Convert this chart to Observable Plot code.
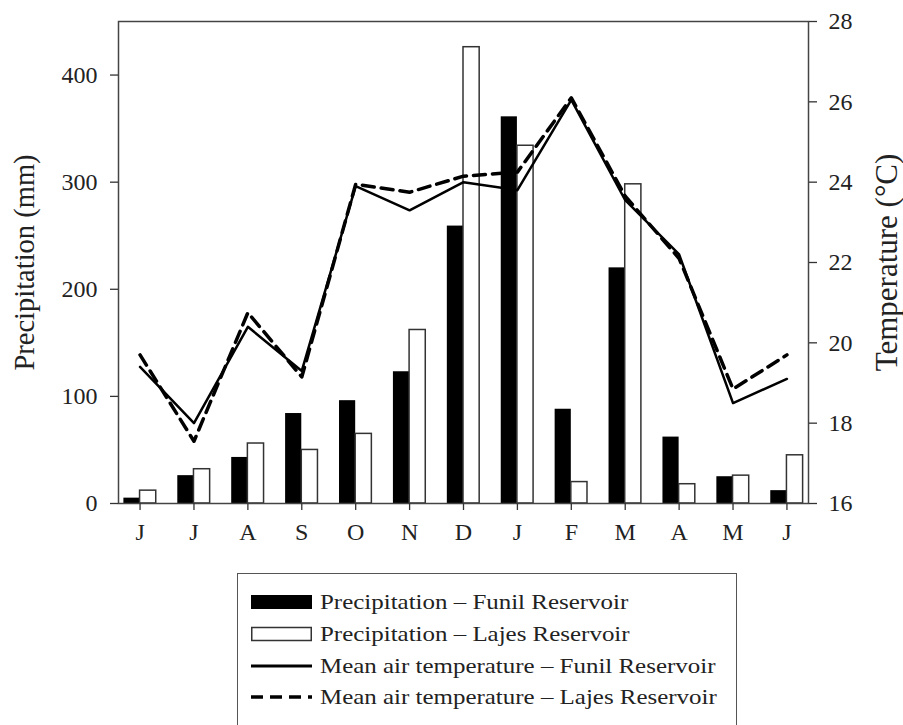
<!DOCTYPE html>
<html>
<head>
<meta charset="utf-8">
<script src="https://cdn.jsdelivr.net/npm/d3@7"></script>
<script src="https://cdn.jsdelivr.net/npm/@observablehq/plot@0.6"></script>
<style>
  html, body { margin: 0; padding: 0; background: #fff; }
  body { width: 903px; height: 725px; position: relative; overflow: hidden; font-family: "Liberation Serif", serif; }
  #chart { position: absolute; left: 0; top: 0; }
  #chart svg { font-family: "Liberation Serif", serif; }
  #legend { position: absolute; left: 237px; top: 573px; width: 500px; height: 170px; border: 1.5px solid #555; box-sizing: border-box; }
  .item { position: absolute; left: 13px; height: 30px; display: flex; align-items: center; color: #222; white-space: nowrap; }
  .item svg { margin-right: 8px; flex: none; }
  .item span { display: inline-block; font-size: 21.5px; transform: scaleX(1.16); transform-origin: left center; }
</style>
</head>
<body>
<div id="chart"></div>
<div id="legend">
  <div class="item" style="top:13px"><svg width="61" height="16"><rect x="0" y="1" width="61" height="14" fill="#000"/></svg><span>Precipitation – Funil Reservoir</span></div>
  <div class="item" style="top:45px"><svg width="61" height="16"><rect x="0.75" y="1.5" width="59.5" height="13" fill="#fff" stroke="#333" stroke-width="1.5"/></svg><span>Precipitation – Lajes Reservoir</span></div>
  <div class="item" style="top:77px"><svg width="61" height="16"><line x1="0" x2="61" y1="8" y2="8" stroke="#000" stroke-width="3"/></svg><span>Mean air temperature – Funil Reservoir</span></div>
  <div class="item" style="top:108px"><svg width="61" height="16"><line x1="0" x2="61" y1="8" y2="8" stroke="#000" stroke-width="3.5" stroke-dasharray="12,7"/></svg><span>Mean air temperature – Lajes Reservoir</span></div>
</div>
<script>
const months = ["J","J","A","S","O","N","D","J","F","M","A","M","J"];
const precipFunil = [5, 26, 43, 84, 96, 123, 259, 361, 88, 220, 62, 25, 12];
const precipLajes = [12, 32, 56, 50, 65, 162, 426, 334, 20, 298, 18, 26, 45];
const tempFunil = [19.4, 18.0, 20.4, 19.3, 23.9, 23.3, 24.0, 23.8, 26.05, 23.55, 22.2, 18.5, 19.1];
const tempLajes = [19.7, 17.55, 20.75, 19.15, 23.95, 23.75, 24.15, 24.25, 26.1, 23.65, 22.1, 18.85, 19.7];
const precipTicks = [0, 100, 200, 300, 400];
const tempTicks = [16, 18, 20, 22, 24, 26, 28];
const leftLabel = "Precipitation (mm)";
const rightLabel = "Temperature (°C)";

const tMin = 16, tMax = 28, pMax = 450;
const toP = t => (t - tMin) * pMax / (tMax - tMin);

const rows = months.map((m, i) => ({
  i, m,
  funil: precipFunil[i], lajes: precipLajes[i],
  tf: toP(tempFunil[i]), tl: toP(tempLajes[i])
}));
const bw = 0.3;
const blank = () => "";

const chart = Plot.plot({
  width: 903,
  height: 550,
  marginLeft: 118,
  marginRight: 95,
  marginTop: 21,
  marginBottom: 47,
  x: { type: "linear", domain: [-0.4, 12.4] },
  y: { domain: [0, pMax] },
  style: { fontFamily: "Liberation Serif, serif", background: "#fff", color: "#222" },
  marks: [
    Plot.rect(rows, { x1: d => d.i - bw, x2: d => d.i, y1: 0, y2: "funil", fill: "#000" }),
    Plot.rect(rows, { x1: d => d.i, x2: d => d.i + bw, y1: 0, y2: "lajes", fill: "#fff", stroke: "#333", strokeWidth: 1.5 }),
    Plot.line(rows, { x: "i", y: "tf", stroke: "#000", strokeWidth: 2.5 }),
    Plot.line(rows, { x: "i", y: "tl", stroke: "#000", strokeWidth: 3.5, strokeDasharray: "12,7" }),
    Plot.frame({ stroke: "#444", strokeWidth: 1.5 }),
    // tick lines
    Plot.axisX({ ticks: d3.range(months.length), tickFormat: blank, tickSize: 7, label: null, stroke: "#333", strokeWidth: 1.3 }),
    Plot.axisY({ ticks: precipTicks, tickFormat: blank, tickSize: 8, label: null, stroke: "#333", strokeWidth: 1.3 }),
    Plot.axisY({ anchor: "right", ticks: tempTicks.map(toP), tickFormat: blank, tickSize: 8, label: null, stroke: "#333", strokeWidth: 1.3 }),
    // tick labels
    Plot.text(rows, { x: "i", text: "m", frameAnchor: "bottom", lineAnchor: "top", dy: 19, fontSize: 24, fill: "#222" }),
    Plot.text(precipTicks, { y: d => d, text: d => String(d), frameAnchor: "left", textAnchor: "end", dx: -21, fontSize: 24, fill: "#222" }),
    Plot.text(tempTicks, { y: d => toP(d), text: d => String(d), frameAnchor: "right", textAnchor: "start", dx: 20, fontSize: 24, fill: "#222" }),
    // axis titles
    Plot.text([leftLabel], { text: d => d, frameAnchor: "left", textAnchor: "middle", rotate: -90, dx: -94, fontSize: 28.5, fill: "#222" }),
    Plot.text([rightLabel], { text: d => d, frameAnchor: "right", textAnchor: "middle", rotate: -90, dx: 79, fontSize: 31, fill: "#222" })
  ]
});
document.getElementById("chart").appendChild(chart);
</script>
</body>
</html>
